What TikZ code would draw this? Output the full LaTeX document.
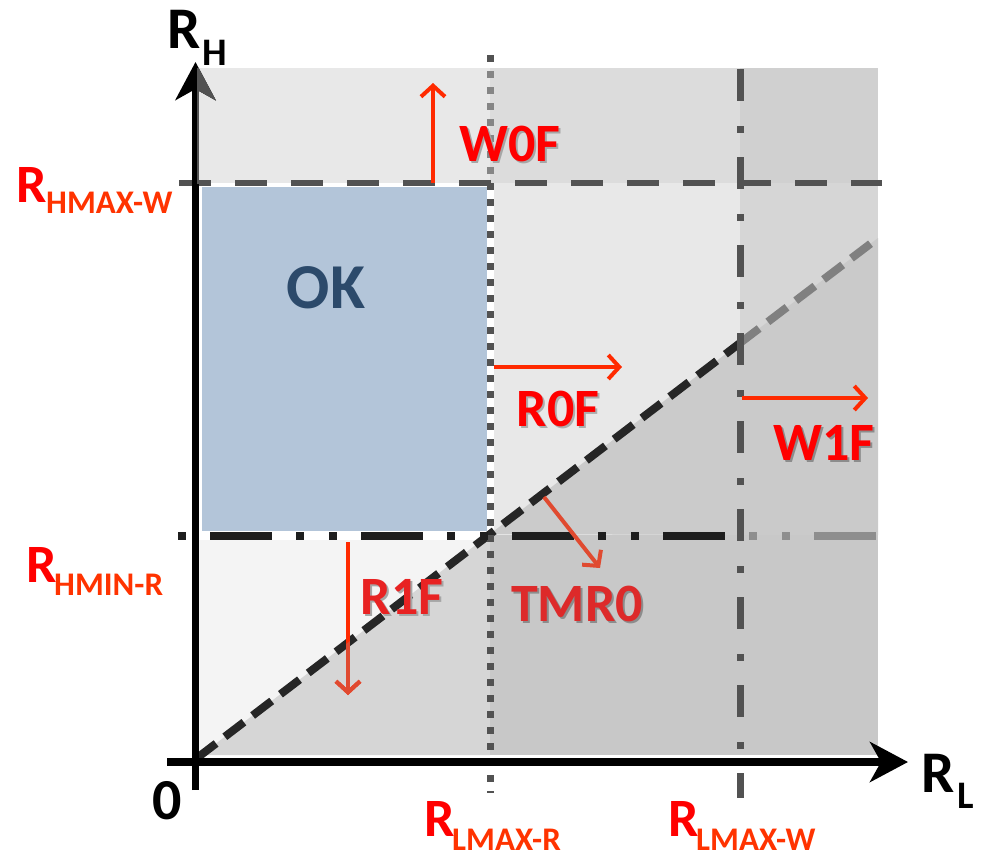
\documentclass[tikz,border=0pt]{standalone}
\usepackage{fontspec}
\setmainfont{Carlito}
\usetikzlibrary{arrows.meta}

\definecolor{topA}{HTML}{E8E8E8}
\definecolor{topB}{HTML}{DCDCDC}
\definecolor{topC}{HTML}{D0D0D0}
\definecolor{midA}{HTML}{E8E8E8}
\definecolor{midB}{HTML}{D6D6D6}
\definecolor{midAd}{HTML}{CBCBCB}
\definecolor{midBd}{HTML}{CACACA}
\definecolor{lowA}{HTML}{F4F4F4}
\definecolor{lowAd}{HTML}{D6D6D6}
\definecolor{lowB}{HTML}{C8C8C8}
\definecolor{okblue}{HTML}{B3C5D9}
\definecolor{oktext}{HTML}{2C4A6B}
\definecolor{lineDark}{HTML}{525252}
\definecolor{lineLight}{HTML}{858585}
\definecolor{lineBlack}{HTML}{1E1E1E}
\definecolor{lineGray}{HTML}{8E8E8E}
\definecolor{diagDark}{HTML}{262626}
\definecolor{diagGray}{HTML}{808080}
\definecolor{lblRed}{HTML}{FF0000}
\definecolor{subRed}{HTML}{FF3300}
\definecolor{arrRed}{HTML}{FF2A00}
\definecolor{arrDim}{HTML}{E04A30}
\definecolor{tmrRed}{HTML}{DD2A2A}
\definecolor{r1fRed}{HTML}{E82222}

% label text with a soft drop shadow: #1 shadow colour, #2 text
\newcommand{\shadowed}[2]{\rlap{\kern2pt\raisebox{-2pt}{\textcolor{#1}{#2}}}#2}

\tikzset{
  bigfont/.style={font=\fontsize{54}{54}\selectfont\bfseries, inner sep=0pt},
  axfont/.style={font=\fontsize{59}{59}\selectfont\bfseries, inner sep=0pt, anchor=base west},
  axsub/.style={font=\fontsize{39}{39}\selectfont\bfseries, inner sep=0pt, anchor=base west},
  limfont/.style={font=\fontsize{54}{54}\selectfont\bfseries, inner sep=0pt, anchor=base west, text=lblRed},
  limsub/.style={font=\fontsize{33}{33}\selectfont\bfseries, inner sep=0pt, anchor=base west, text=subRed},
  redarr/.style={line width=4pt, -{Straight Barb[length=11pt,width=24pt]}},
  axisline/.style={line width=7.5pt, -{Stealth[length=38pt,width=40pt,inset=11pt]}},
  dotline/.style={line width=7pt, dash pattern=on 7pt off 9pt},
  dashline/.style={line width=6pt, dash pattern=on 32pt off 24pt},
  dashdotline/.style={line width=7pt, dash pattern=on 32pt off 25pt on 7pt off 24pt},
  dashdotdotline/.style={line width=8pt, dash pattern=on 8pt off 24pt on 62pt off 24pt on 8pt off 25pt},
  diagline/.style={line width=8pt, dash pattern=on 24pt off 11pt}
}

\begin{document}
\begin{tikzpicture}[x=1pt,y=-1pt]
\useasboundingbox (0,0) rectangle (984,857);

% corner points of the diagonal boundary
\coordinate (O) at (197,758);
\coordinate (P) at (490,534);
\coordinate (Q) at (740,343);
\coordinate (E) at (878,238);

% shaded regions
\fill[topA] (197,68) rectangle (490,183);
\fill[topB] (490,68) rectangle (740,183);
\fill[topC] (740,68) rectangle (878,183);
\fill[midA] (490,183) rectangle (740,535);
\fill[midB] (740,183) rectangle (878,535);
\fill[midAd] (P) -- (Q) -- (740,535) -- cycle;
\fill[midBd] (Q) -- (E) -- (878,535) -- (740,535) -- cycle;
\fill[lowA] (197,535) rectangle (490,755);
\fill[lowAd] (O) -- (P) -- (490,755) -- (197,755) -- cycle;
\fill[lowB] (490,535) rectangle (878,755);

% OK window
\fill[white] (199,186) rectangle (494,540);
\fill[okblue] (202,187) rectangle (487,531);

% diagonal R_H = R_L
\draw[diagline, diagDark] (O) -- (Q);
\draw[diagline, diagGray] (Q) -- (E);

% limit lines
\draw[dotline, lineDark] (490,55) -- (490,793);
\begin{scope}
  \clip (480,68) rectangle (500,180);
  \draw[dotline, lineLight] (490,55) -- (490,793);
\end{scope}
\draw[dashline, lineDark] (179,183) -- (882,183);
\begin{scope}
  \clip (170,520) rectangle (740,550);
  \draw[dashdotdotline, lineBlack] (178,536) -- (882,536);
\end{scope}
\begin{scope}
  \clip (740,520) rectangle (890,550);
  \draw[dashdotdotline, lineGray] (178,536) -- (882,536);
\end{scope}
\draw[dashdotline, lineDark] (740,69) -- (740,798);

% axes
\draw[axisline, black] (195.5,790) -- (195.5,62);
\begin{scope}
  \clip (197,68) rectangle (240,183);
  \draw[axisline, lineDark] (195.5,790) -- (195.5,62);
\end{scope}
\draw[axisline, black] (167,762) -- (908,762);

% axis labels
\node[axfont] (rh) at (167,48) {R};
\node[axsub] (rhsub) at (202,65) {H};
\node[axfont] (rl) at (921,792) {R};
\node[axsub] (rlsub) at (957,808) {L};
\node[font=\fontsize{58}{58}\selectfont\bfseries, inner sep=0pt] (zero) at (167,801) {0};

% limit labels
\node[limfont] (hmaxw) at (16,202) {R};
\node[limsub] (hmaxwsub) at (46,213) {HMAX-W};
\node[limfont] (hminr) at (26,582) {R};
\node[limsub] (hminrsub) at (54,595) {HMIN-R};
\node[limfont] (lmaxr) at (424,836) {R};
\node[limsub] (lmaxrsub) at (452,850) {LMAX-R};
\node[limfont] (lmaxw) at (668,836) {R};
\node[limsub] (lmaxwsub) at (696,850) {LMAX-W};

% failure direction arrows
\coordinate (w0s) at (433,183);
\coordinate (w0e) at (433,83);
\coordinate (r0s) at (494,367);
\coordinate (r0e) at (622,367);
\coordinate (w1s) at (742,398);
\coordinate (w1e) at (868,398);
\coordinate (r1s) at (348,542);
\coordinate (r1e) at (348,695);
\coordinate (tms) at (544,497);
\coordinate (tme) at (600,568);
\draw[redarr, arrRed] (w0s) -- (w0e);
\draw[redarr, arrRed] (r0s) -- (r0e);
\draw[redarr, arrRed] (w1s) -- (w1e);
\draw[redarr, arrRed] (r1s) -- (r1e);
\begin{scope}
  \clip (O) -- (P) -- (490,760) -- (190,760) -- cycle;
  \draw[redarr, arrDim] (r1s) -- (r1e);
\end{scope}
\draw[redarr, arrDim] (tms) -- (tme);

% region labels
\node[bigfont, text=lblRed] (w0f) at (510,145) {\shadowed{black!35}{W0F}};
\node[bigfont, text=lblRed] (r0f) at (558,410) {\shadowed{black!32}{R0F}};
\node[bigfont, text=lblRed] (w1f) at (824,444) {\shadowed{black!45}{W1F}};
\node[bigfont, text=r1fRed] (r1f) at (402,598) {\shadowed{black!35}{R1F}};
\node[bigfont, text=tmrRed] (tmr) at (577,605) {\shadowed{black!45}{TMR0}};
\node[font=\fontsize{64}{64}\selectfont\bfseries, inner sep=0pt, text=oktext] (ok) at (326,288) {OK};
\end{tikzpicture}
\end{document}
